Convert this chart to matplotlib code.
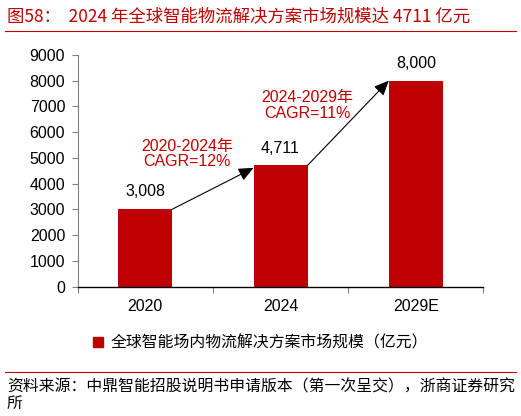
import matplotlib
matplotlib.use("Agg")
import matplotlib.pyplot as plt
from matplotlib.lines import Line2D
from matplotlib.patches import Patch

categories = ["2020", "2024", "2029E"]
values = [3008, 4711, 8000]
value_labels = ["3,008", "4,711", "8,000"]
yticks = [0, 1000, 2000, 3000, 4000, 5000, 6000, 7000, 8000, 9000]
cagr_texts = ["2020-2024年\nCAGR=12%", "2024-2029年\nCAGR=11%"]
title = "图58：  2024 年全球智能物流解决方案市场规模达 4711 亿元"
legend_label = "全球智能场内物流解决方案市场规模（亿元）"
source_lines = ["资料来源：中鼎智能招股说明书申请版本（第一次呈交），浙商证券研究", "所"]

RED = "#C00000"
LAT = ["Liberation Sans", "Noto Sans CJK SC", "DejaVu Sans"]
CJK = ["Noto Sans CJK SC", "DejaVu Sans"]
plt.rcParams["font.family"] = LAT

fig = plt.figure(figsize=(5.21, 4.16), dpi=100)
ax = fig.add_axes([0.149, 0.311, 0.779, 0.557])

x = list(range(len(categories)))
ax.bar(x, values, width=0.4, color=RED, label=legend_label, zorder=2)
ax.set_xlim(-0.5, len(categories) - 0.5)
ax.set_ylim(0, 9000)
ax.set_yticks(yticks)
ax.set_yticklabels([str(v) for v in yticks], fontsize=11.5)
ax.set_xticks(x)
ax.set_xticklabels(categories, fontsize=11.5)
ax.set_xticks([i - 0.5 for i in range(len(categories) + 1)], minor=True)
ax.tick_params(axis="x", which="major", length=0, pad=9)
ax.tick_params(axis="x", which="minor", length=4, color="#808080", width=0.8)
ax.tick_params(axis="y", length=4, color="#808080", width=0.8, pad=5)
for s in ["top", "right"]:
    ax.spines[s].set_visible(False)
ax.spines["left"].set_color("#808080")
ax.spines["left"].set_linewidth(0.8)
ax.spines["bottom"].set_color("black")
ax.spines["bottom"].set_linewidth(1.0)

for xi, v, lab in zip(x, values, value_labels):
    ax.annotate(lab, (xi, v), xytext=(0, 7), textcoords="offset points",
                ha="center", va="bottom", fontsize=11.5, color="black")

# arrows between bars
arrow_kw = dict(arrowstyle="-|>,head_length=0.9,head_width=0.4", color="black", lw=0.8,
                shrinkA=0, shrinkB=0)
ax.annotate("", xy=(0.8, values[1] - 100), xytext=(0.2, values[0]), arrowprops=arrow_kw)
ax.annotate("", xy=(1.8, values[2]), xytext=(1.2, values[1]), arrowprops=arrow_kw)

ax.text(0.31, 5150, cagr_texts[0], ha="center", va="center", fontsize=11.5,
        color=RED, linespacing=1.05)
ax.text(1.2, 7030, cagr_texts[1], ha="center", va="center", fontsize=11.5,
        color=RED, linespacing=1.05)

# title and rules
fig.text(0.013, 0.962, title, ha="left", va="center", fontsize=12.5, color=RED,
         family=CJK)
fig.add_artist(Line2D([0.01, 0.99], [0.925, 0.925], color=RED, lw=0.8,
                      transform=fig.transFigure))
fig.add_artist(Line2D([0.01, 0.99], [0.106, 0.106], color=RED, lw=0.8,
                      transform=fig.transFigure))

ax.legend(handles=[Patch(color=RED, label=legend_label)],
          loc="center", bbox_to_anchor=(0.5, 0.175), bbox_transform=fig.transFigure,
          frameon=False, handlelength=0.6, handleheight=0.6, handletextpad=0.5,
          prop={"family": CJK, "size": 11.4})

for i, line in enumerate(source_lines):
    fig.text(0.013, 0.069 - i * 0.038, line, ha="left", va="center", fontsize=11.4,
             color="black", family=CJK)

fig.savefig("out.png", dpi=100)
